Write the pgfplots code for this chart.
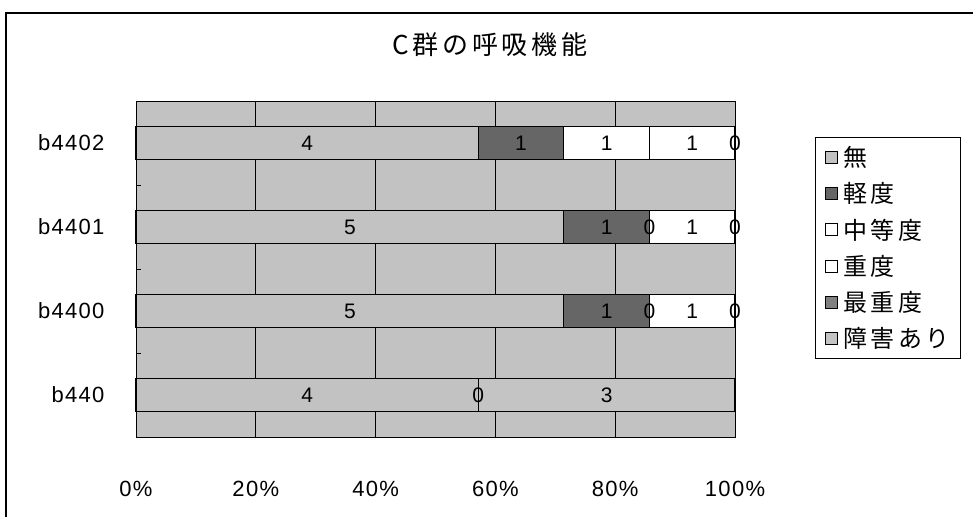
\documentclass[border=0pt]{standalone}
\usepackage{pgfplots}
\pgfplotsset{compat=1.18}
\usepackage{pgfplotstable}
\usepackage{fontspec}
\setmainfont{Liberation Sans}[LetterSpace=6]
\newfontfamily\jp{Noto Sans CJK JP}[LetterSpace=14]

\definecolor{nashi}{gray}{0.76}
\definecolor{keido}{gray}{0.40}
\definecolor{saiju}{gray}{0.50}
\definecolor{ari}{gray}{0.77}

\tikzset{valfont/.style={font=\fontsize{21}{25}\selectfont}}

% counts per category (row 0 = b440 ... row 3 = b4402), 7 cases each
\pgfplotstableread{
cat n0 n1 n2 n3 n4 n5
0 4 0 0 0 0 3
1 5 1 0 1 0 0
2 5 1 0 1 0 0
3 4 1 1 1 0 0
}\counts

% empty segments: category, cumulative count where the segment sits, its count
\pgfplotstableread{
cat at n
3 7 0
2 6 0
2 7 0
1 6 0
1 7 0
0 4 0
}\zeros

\pgfplotsset{
  seg/.style={
    table/y=cat,
    table/x expr=\thisrow{#1}*100/7,
    table/meta=#1,
  },
  frame/.style={
    at={(136pt,-437pt)}, anchor=south west,
    width=599pt, height=336pt, scale only axis,
    xmin=0, xmax=100, ymin=-0.5, ymax=3.5,
  },
}

\begin{document}
\begin{tikzpicture}
\useasboundingbox (0pt,0pt) rectangle (973pt,-516pt);
\draw[line width=1.5pt] (6pt,-560pt) -- (6pt,-13pt) -- (1000pt,-13pt);
\node[font=\jp\fontsize{26}{30}\selectfont] at (490pt,-45pt) {C群の呼吸機能};
\begin{axis}[
  frame,
  clip=false,
  xbar stacked, bar width=33pt,
  axis background/.style={fill=nashi},
  axis line style={black, line width=1pt},
  /pgf/number format/assume math mode=true,
  tick label style={font=\fontsize{22}{26}\selectfont},
  xtick={0,20,...,100},
  xticklabel={\pgfmathprintnumber{\tick}\%},
  xticklabel style={yshift=-41pt},
  xmajorgrids, major grid style={black, line width=0.9pt},
  ytick={0,1,2,3},
  yticklabels={b440,b4400,b4401,b4402},
  yticklabel style={anchor=east, xshift=-28pt},
  major tick length=0pt,
  ytick pos=left,
  extra y ticks={0.5,1.5,2.5}, extra y tick labels={},
  extra y tick style={major tick length=5pt, tick align=inside, tick style={black, line width=1pt}},
  point meta=explicit,
  nodes near coords,
  every node near coord/.append style={anchor=center, valfont},
  legend style={at={(1.1336,0.8929)}, anchor=north west, draw=black, line width=1pt,
    font=\jp\fontsize{24}{28}\selectfont, row sep=10.5pt, inner xsep=9pt, inner ysep=7pt,
    cells={anchor=west}, /tikz/every odd column/.style={column sep=4pt}},
  legend image code/.code={\draw[#1, draw=black, line width=0.8pt] (0pt,-6pt) rectangle (12pt,6pt);},
  every axis plot/.append style={draw=black, line width=1.2pt},
]
\addplot[fill=nashi] table[seg=n0] \counts;
\addplot[fill=keido] table[seg=n1] \counts;
\addplot[fill=white] table[seg=n2] \counts;
\addplot[fill=white] table[seg=n3] \counts;
\addplot[fill=saiju] table[seg=n4] \counts;
\addplot[fill=ari] table[seg=n5] \counts;
\legend{無,軽度,中等度,重度,最重度,障害あり}
\end{axis}
% value labels of the empty segments
\begin{axis}[
  frame, hide axis, clip=false,
  /pgf/number format/assume math mode=true,
  point meta=explicit,
  nodes near coords,
  every node near coord/.append style={anchor=center, valfont},
]
\addplot[draw=none, mark=none] table[y=cat, x expr=\thisrow{at}*100/7, meta=n] \zeros;
\end{axis}
\end{tikzpicture}
\end{document}
